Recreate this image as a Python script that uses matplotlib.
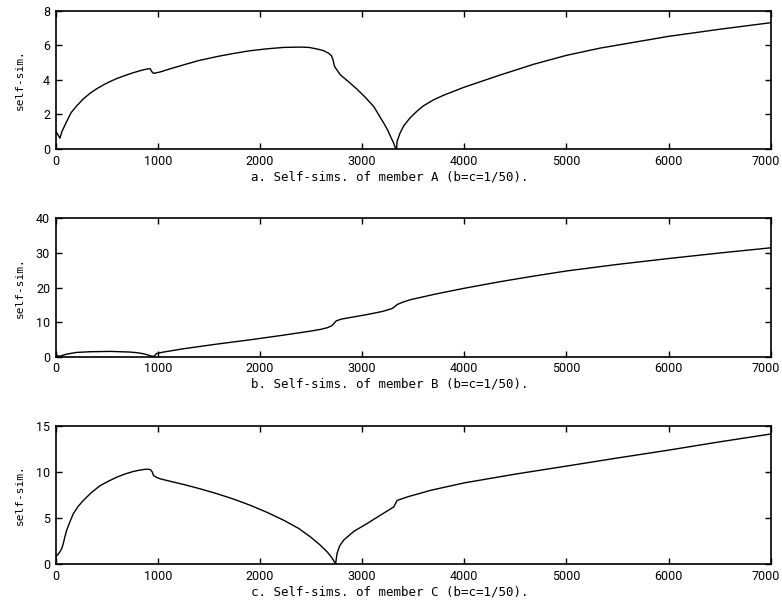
import numpy as np
import matplotlib.pyplot as plt
import matplotlib.transforms as mtransforms

# member A self-similarity
a_x = [0, 20, 42, 60, 108, 150, 206, 270, 337, 400, 467, 530, 598, 680, 761, 830, 892, 925, 941,
       958, 1023, 1130, 1252, 1400, 1578, 1740, 1905, 2070, 2232, 2395, 2480, 2559, 2620, 2673,
       2700, 2716, 2729, 2750, 2788, 2870, 2951, 3030, 3114, 3212, 3250, 3278, 3305, 3327, 3337,
       3343, 3371, 3408, 3469, 3539, 3600, 3700, 3800, 4000, 4350, 4676, 5000, 5330, 6000, 6500, 7000]
a_y = [1.05, 0.85, 0.63, 1.0, 1.6, 2.1, 2.5, 2.9, 3.23, 3.48, 3.71, 3.9, 4.08, 4.26, 4.42, 4.54,
       4.63, 4.65, 4.48, 4.38, 4.46, 4.66, 4.87, 5.12, 5.35, 5.53, 5.69, 5.80, 5.88, 5.90, 5.88,
       5.79, 5.70, 5.54, 5.40, 5.15, 4.81, 4.60, 4.29, 3.88, 3.46, 3.0, 2.46, 1.5, 1.1, 0.73, 0.4,
       0.06, 0.0, 0.45, 0.92, 1.35, 1.8, 2.2, 2.5, 2.85, 3.12, 3.58, 4.28, 4.9, 5.42, 5.84, 6.52,
       6.93, 7.31]

# member B self-similarity
b_x = [0, 36, 70, 108, 206, 337, 533, 729, 800, 859, 910, 941, 960, 990, 1056, 1252, 1578, 1905,
       2232, 2493, 2600, 2657, 2700, 2716, 2735, 2748, 2800, 2886, 3049, 3200, 3294, 3320, 3343,
       3400, 3474, 3670, 3698, 4000, 4350, 4676, 5000, 5500, 6000, 6500, 7000]
b_y = [0.6, 0.1, 0.4, 0.77, 1.25, 1.44, 1.54, 1.35, 1.15, 0.87, 0.45, 0.15, 0.1, 0.96, 1.35, 2.31,
       3.65, 4.9, 6.25, 7.4, 7.95, 8.37, 8.9, 9.33, 10.0, 10.4, 10.9, 11.35, 12.2, 13.1, 13.94,
       14.5, 15.1, 15.8, 16.5, 17.8, 18.0, 19.8, 21.7, 23.3, 24.8, 26.7, 28.4, 30.0, 31.5]

# member C self-similarity
c_x = [0, 20, 42, 60, 75, 90, 108, 140, 173, 220, 271, 350, 435, 520, 598, 680, 761, 830, 892,
       925, 945, 958, 990, 1023, 1130, 1252, 1400, 1578, 1740, 1905, 2070, 2232, 2380, 2493,
       2580, 2657, 2700, 2722, 2740, 2755, 2780, 2820, 2920, 3049, 3180, 3310, 3343, 3450, 3670,
       4000, 4500, 5000, 5500, 6000, 6500, 7000]
c_y = [0.79, 1.0, 1.33, 1.7, 2.23, 2.95, 3.67, 4.6, 5.47, 6.25, 6.9, 7.75, 8.5, 9.0, 9.42, 9.77,
       10.04, 10.2, 10.29, 10.25, 10.0, 9.6, 9.38, 9.24, 8.95, 8.63, 8.2, 7.63, 7.05, 6.37, 5.6,
       4.75, 3.85, 2.95, 2.15, 1.33, 0.75, 0.35, 0.0, 1.15, 1.95, 2.6, 3.55, 4.39, 5.3, 6.19, 6.9,
       7.3, 7.99, 8.8, 9.75, 10.62, 11.5, 12.35, 13.25, 14.1]

captions = ["a. Self-sims. of member A (b=c=1/50).",
            "b. Self-sims. of member B (b=c=1/50).",
            "c. Self-sims. of member C (b=c=1/50)."]
ylims = [(0, 8), (0, 40), (0, 15)]
yticks = [[0, 2, 4, 6, 8], [0, 10, 20, 30, 40], [0, 5, 10, 15]]
series = [(a_x, a_y), (b_x, b_y), (c_x, c_y)]
bottoms = [0.758, 0.4209, 0.0844]
caption_y = [177, 384, 592]

plt.rcParams['font.family'] = 'DejaVu Sans Mono'
tickfont = ['Roboto', 'DejaVu Sans']

fig = plt.figure(figsize=(7.82, 6.16), dpi=100)
for i in range(3):
    ax = fig.add_axes([0.0712, bottoms[i], 0.9143, 0.2245])
    x, y = series[i]
    ax.plot(x, y, color='black', lw=1.0)
    ax.set_xlim(0, 7000)
    ax.set_ylim(*ylims[i])
    ax.set_xticks(range(0, 7001, 1000))
    ax.set_yticks(yticks[i])
    ax.tick_params(direction='in', top=True, right=True, length=4, width=1, pad=4)
    for lab in ax.get_xticklabels() + ax.get_yticklabels():
        lab.set_family(tickfont)
        lab.set_fontsize(9)
    # keep the last x label inside the figure
    last = ax.xaxis.get_major_ticks()[-1].label1
    last.set_transform(last.get_transform() +
                       mtransforms.ScaledTranslation(-3.5 / 72, 0, fig.dpi_scale_trans))
    for s in ax.spines.values():
        s.set_linewidth(1.2)
    ax.set_ylabel("self-sim.", fontsize=8)
    ax.yaxis.set_label_coords(-0.043, 0.5)
    fig.text(390 / 782, 1 - caption_y[i] / 616, captions[i], fontsize=9,
             ha='center', va='center')

fig.savefig('out.png', dpi=100)
